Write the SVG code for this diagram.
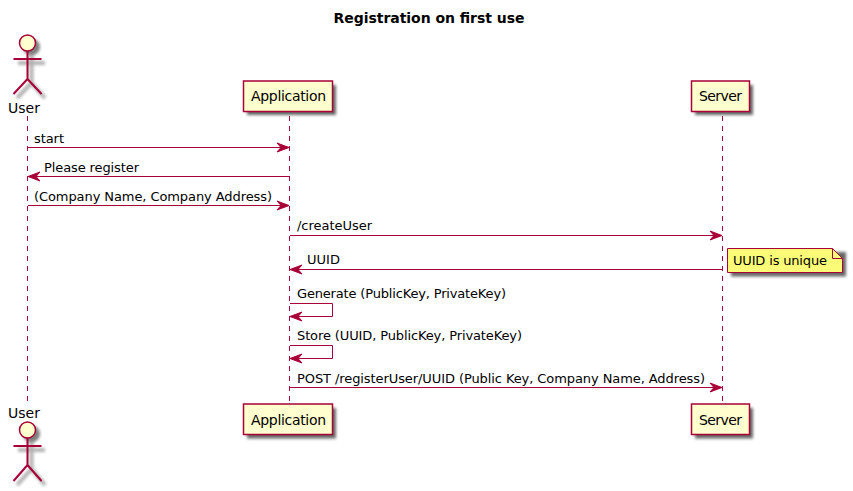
<svg xmlns="http://www.w3.org/2000/svg" width="853" height="491" viewBox="0 0 853 491">
<defs>
<filter id="sh" filterUnits="userSpaceOnUse" x="0" y="0" width="853" height="491"><feGaussianBlur stdDeviation="1.700"/></filter>
<marker id="ah" markerUnits="userSpaceOnUse" markerWidth="14" markerHeight="12" refX="13" refY="6" orient="auto"><path d="M1,1.500 L13,6 L1,10.500 L5,6 Z" fill="#A80036" stroke="#A80036" stroke-width="1"/></marker>
</defs>
<style>
text{font-family:"DejaVu Sans",sans-serif;font-size:13px;fill:#000}
.p{font-size:14px}
.life{stroke:#A80036;stroke-width:1;stroke-dasharray:5 5;fill:none}
.m{stroke:#A80036;stroke-width:1;fill:none;marker-end:url(#ah)}
.b{fill:#FEFECE;stroke:#A80036;stroke-width:1.500}
.s{fill:#000;opacity:.6;filter:url(#sh)}
.sl{fill:none;stroke:#000;stroke-width:4;opacity:.3;filter:url(#sh)}
.sc{fill:#000;opacity:.5;filter:url(#sh)}
.a{fill:none;stroke:#A80036;stroke-width:2}
</style>
<rect width="853" height="491" fill="#fff"/>
<text x="429" y="23" text-anchor="middle" style="font-size:14px;font-weight:bold" textLength="191">Registration on first use</text>
<g id="connectors">
<line class="life" x1="27.500" y1="116" x2="27.500" y2="404"/>
<line class="life" x1="289.500" y1="116" x2="289.500" y2="404"/>
<line class="life" x1="722.500" y1="116" x2="722.500" y2="404"/>
<line class="m" x1="28" y1="147.500" x2="289" y2="147.500"/><text x="34" y="143" textLength="30">start</text>
<line class="m" x1="289" y1="176.500" x2="28" y2="176.500"/><text x="44" y="172" textLength="95">Please register</text>
<line class="m" x1="28" y1="205.500" x2="289" y2="205.500"/><text x="34" y="201" textLength="238">(Company Name, Company Address)</text>
<line class="m" x1="290" y1="235.500" x2="722" y2="235.500"/><text x="297" y="230" textLength="75">/createUser</text>
<line class="m" x1="722" y1="269.500" x2="290" y2="269.500"/><text x="307" y="264" textLength="33">UUID</text>
<path class="m" d="M290,303.500H332.500V316.500H290"/><text x="297" y="298" textLength="209">Generate (PublicKey, PrivateKey)</text>
<path class="m" d="M290,345.500H332.500V358.500H290"/><text x="297" y="340" textLength="225">Store (UUID, PublicKey, PrivateKey)</text>
<line class="m" x1="290" y1="387.500" x2="722" y2="387.500"/><text x="297" y="383" textLength="408">POST /registerUser/UUID (Public Key, Company Name, Address)</text>
</g>
<g id="user-top"><circle class="sc" cx="31.500" cy="47" r="8.500"/><path class="sl" d="M31.500,55V83M18,63H45M31.500,83L17,98M31.500,83L45,98"/>
<circle class="b" cx="27.500" cy="43" r="8"/><path class="a" d="M27.500,51V79M13.500,59H41.500M27.500,79L13.500,94M27.500,79L41.500,94"/><text class="p" x="8" y="113" textLength="32">User</text></g>
<g id="application-top"><rect class="s" x="247" y="85" width="89" height="30"/><rect class="b" x="243.500" y="81" width="89" height="30.500"/><text class="p" x="251" y="101" textLength="75">Application</text></g>
<g id="server-top"><rect class="s" x="695" y="85" width="58" height="30"/><rect class="b" x="691.500" y="81" width="58" height="30.500"/><text class="p" x="699" y="101" textLength="43">Server</text></g>
<g id="note"><path d="M731,252H846V276.500H731Z" class="s"/><path d="M727.500,248.500H832.500L842.500,258.500V272.500H727.500Z" fill="#FBFB77" stroke="#A80036"/><path d="M832.500,248.500V258.500H842.500" fill="none" stroke="#A80036"/><text x="733" y="265" textLength="94">UUID is unique</text></g>
<g id="user-bottom"><text class="p" x="8" y="418" textLength="32">User</text><circle class="sc" cx="31.500" cy="434" r="8.500"/><path class="sl" d="M31.500,442V469M18,450H45M31.500,469L17,485M31.500,469L45,485"/>
<circle class="b" cx="27.500" cy="430" r="8"/><path class="a" d="M27.500,438V465M13.500,446H41.500M27.500,465L13.500,481M27.500,465L41.500,481"/></g>
<g id="application-bottom"><rect class="s" x="247" y="408" width="89" height="30.500"/><rect class="b" x="243.500" y="404" width="89" height="30.500"/><text class="p" x="251" y="425" textLength="75">Application</text></g>
<g id="server-bottom"><rect class="s" x="695" y="408" width="58" height="30.500"/><rect class="b" x="691.500" y="404" width="58" height="30.500"/><text class="p" x="699" y="425" textLength="43">Server</text></g>
</svg>
